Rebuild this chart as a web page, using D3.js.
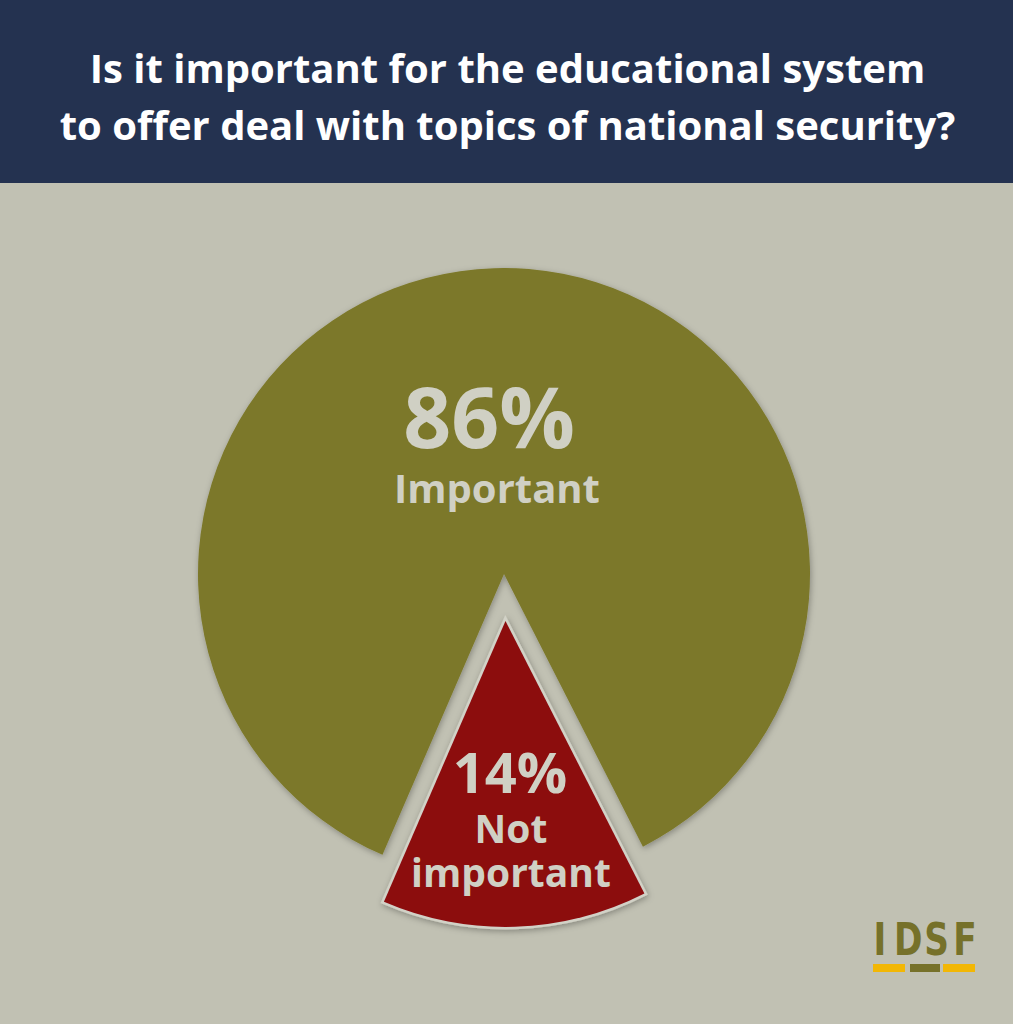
<!DOCTYPE html>
<html>
<head>
<meta charset="utf-8">
<script src="https://d3js.org/d3.v7.min.js"></script>
<style>
  body { margin: 0; background: #c1c1b3; }
  svg { display: block; }
</style>
</head>
<body>
<svg width="1013" height="1024"></svg>
<script>
  // data
  const categories = ['Important', 'Not important'];
  const values = [86, 14];
  const labelLines = [['Important'], ['Not', 'important']];
  const titleLines = [
    'Is it important for the educational system',
    'to offer deal with topics of national security?'
  ];

  const width = 1013, height = 1024;
  const svg = d3.select('svg');
  const cx = 504, cy = 574, radius = 306;
  const colors = d3.scaleOrdinal().domain(categories).range(['#7c7829', '#8c0a10']);
  const textColor = '#d0d0c4';

  // background + header
  svg.append('rect').attr('width', width).attr('height', height).attr('fill', '#c1c1b3');
  svg.append('rect').attr('width', width).attr('height', 183).attr('fill', '#243250');

  svg.append('g').selectAll('text').data(titleLines)
    .enter().append('text')
      .attr('x', width / 2 + 1)
      .attr('y', (d, i) => 83 + i * 57)
      .attr('text-anchor', 'middle')
      .attr('fill', '#ffffff')
      .style('font-family', '"Open Sans", sans-serif')
      .style('font-weight', 700)
      .style('font-size', '40px')
      .text(d => d);

  // soft shadow for the slices
  const defs = svg.append('defs');
  const f = defs.append('filter').attr('id', 'shadow')
    .attr('x', '-20%').attr('y', '-20%').attr('width', '140%').attr('height', '140%');
  f.append('feDropShadow')
    .attr('dx', 1).attr('dy', 2).attr('stdDeviation', 3)
    .attr('flood-color', '#000').attr('flood-opacity', 0.3);

  const deg = Math.PI / 180;
  const start = 203.4 * deg;
  const pie = d3.pie().sort(null).startAngle(start).endAngle(start + 2 * Math.PI);
  const arcs = pie(values);
  const arc = d3.arc().innerRadius(0).outerRadius(radius);
  const explode = [0, 47];

  const g = svg.append('g').attr('transform', `translate(${cx},${cy})`);

  const slice = g.selectAll('g.slice').data(arcs)
    .enter().append('g')
      .attr('class', 'slice')
      .attr('transform', (d, i) => {
        const a = (d.startAngle + d.endAngle) / 2;
        const r = explode[i];
        return `translate(${Math.sin(a) * r},${-Math.cos(a) * r})`;
      });

  slice.append('path')
    .attr('d', arc)
    .attr('fill', (d, i) => colors(categories[i]))
    .attr('stroke', (d, i) => i === 1 ? '#d2d2c7' : 'none')
    .attr('stroke-width', 5)
    .attr('paint-order', 'stroke')
    .attr('filter', 'url(#shadow)');

  // labels, positioned relative to the pie centre
  const pctPos = [[-15, -126], [6, 219]];
  const pctSize = [84, 56];
  const lblSize = [40, 39];
  const lblDx = [8, 1];
  const lblDy = [[55], [50, 94]];

  slice.each(function (d, i) {
    const s = d3.select(this);
    const a = (d.startAngle + d.endAngle) / 2;
    const ox = Math.sin(a) * explode[i], oy = -Math.cos(a) * explode[i];
    const t = s.append('g').attr('transform', `translate(${pctPos[i][0] - ox},${pctPos[i][1] - oy})`);
    t.append('text')
      .attr('text-anchor', 'middle')
      .attr('fill', textColor)
      .style('font-family', '"Open Sans", sans-serif')
      .style('font-weight', 700)
      .style('font-size', pctSize[i] + 'px')
      .text(values[i] + '%');
    t.selectAll('text.lbl').data(labelLines[i])
      .enter().append('text')
        .attr('class', 'lbl')
        .attr('x', lblDx[i])
        .attr('y', (l, j) => lblDy[i][j])
        .attr('text-anchor', 'middle')
        .attr('fill', textColor)
        .style('font-family', '"Open Sans", sans-serif')
        .style('font-weight', 700)
        .style('font-size', lblSize[i] + 'px')
        .text(l => l);
  });

  // logo (letters squeezed horizontally, evenly spaced)
  const logo = svg.append('g').attr('transform', 'translate(873,923)');
  const letters = ['I', 'D', 'S', 'F'];
  const lx = d3.scalePoint().domain(letters).range([7, 92]);
  logo.selectAll('text').data(letters)
    .enter().append('text')
      .attr('transform', d => `translate(${lx(d)},32) scale(0.78,1)`)
      .attr('text-anchor', 'middle')
      .attr('fill', '#76712a')
      .style('font-family', '"DejaVu Sans", sans-serif')
      .style('font-weight', 700)
      .style('font-size', '44px')
      .text(d => d);
  const bars = [[0, 32, '#f2b705'], [37, 30, '#76712a'], [70, 32, '#f2b705']];
  logo.selectAll('rect').data(bars)
    .enter().append('rect')
      .attr('x', d => d[0]).attr('y', 41)
      .attr('width', d => d[1]).attr('height', 8)
      .attr('fill', d => d[2]);
</script>
</body>
</html>
